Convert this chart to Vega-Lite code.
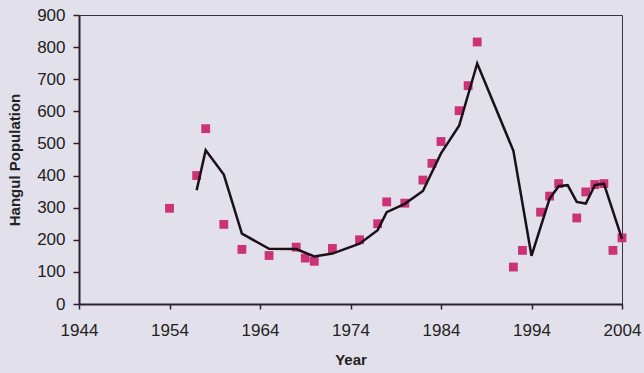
{
  "$schema": "https://vega.github.io/schema/vega-lite/v6.json",
  "autosize": "none",
  "width": 543,
  "height": 289,
  "padding": {"left": 79, "top": 15, "right": 22, "bottom": 69},
  "background": "#e2e0ea",
  "config": {
    "view": {"stroke": "#3a3040", "strokeWidth": 1, "fill": "#e2e0ea"},
    "axis": {
      "labelFont": "Liberation Sans",
      "titleFont": "Liberation Sans",
      "labelColor": "#222222",
      "titleColor": "#222222",
      "domainColor": "#2a2030",
      "domainWidth": 2,
      "tickColor": "#2a2030",
      "tickWidth": 1.5,
      "tickSize": 5,
      "grid": false,
      "labelFontSize": 17,
      "labelOverlap": false,
      "titleFontSize": 15,
      "titleFontWeight": "bold"
    }
  },
  "datasets": {
    "obs": [
      {"year": 1954, "pop": 298},
      {"year": 1957, "pop": 400},
      {"year": 1958, "pop": 546},
      {"year": 1960, "pop": 248},
      {"year": 1962, "pop": 170},
      {"year": 1965, "pop": 151},
      {"year": 1968, "pop": 177},
      {"year": 1969, "pop": 143},
      {"year": 1970, "pop": 133},
      {"year": 1972, "pop": 173},
      {"year": 1975, "pop": 200},
      {"year": 1977, "pop": 250},
      {"year": 1978, "pop": 318},
      {"year": 1980, "pop": 314},
      {"year": 1982, "pop": 386},
      {"year": 1983, "pop": 438},
      {"year": 1984, "pop": 506},
      {"year": 1986, "pop": 602},
      {"year": 1987, "pop": 680},
      {"year": 1988, "pop": 816},
      {"year": 1992, "pop": 115},
      {"year": 1993, "pop": 167},
      {"year": 1995, "pop": 286},
      {"year": 1996, "pop": 336},
      {"year": 1997, "pop": 375},
      {"year": 1999, "pop": 268},
      {"year": 2000, "pop": 349},
      {"year": 2001, "pop": 372},
      {"year": 2002, "pop": 375},
      {"year": 2003, "pop": 167},
      {"year": 2004, "pop": 206}
    ],
    "trend": [
      {"year": 1957, "pop": 354},
      {"year": 1958, "pop": 479},
      {"year": 1960, "pop": 403},
      {"year": 1962, "pop": 219},
      {"year": 1965, "pop": 172},
      {"year": 1968, "pop": 171},
      {"year": 1970, "pop": 148},
      {"year": 1972, "pop": 157},
      {"year": 1975, "pop": 188},
      {"year": 1977, "pop": 230},
      {"year": 1978, "pop": 286},
      {"year": 1980, "pop": 312},
      {"year": 1982, "pop": 352},
      {"year": 1984, "pop": 469},
      {"year": 1986, "pop": 555},
      {"year": 1988, "pop": 749},
      {"year": 1992, "pop": 477},
      {"year": 1994, "pop": 150},
      {"year": 1996, "pop": 328},
      {"year": 1997, "pop": 367},
      {"year": 1998, "pop": 370},
      {"year": 1999, "pop": 318},
      {"year": 2000, "pop": 313},
      {"year": 2001, "pop": 370},
      {"year": 2002, "pop": 375},
      {"year": 2004, "pop": 203}
    ]
  },
  "encoding": {
    "x": {
      "field": "year", "type": "quantitative",
      "scale": {"domain": [1944, 2004], "nice": false, "zero": false},
      "axis": {"values": [1944, 1954, 1964, 1974, 1984, 1994, 2004], "format": "d", "title": "Year", "labelPadding": 13, "titlePadding": 14, "labelFlush": false}
    },
    "y": {
      "field": "pop", "type": "quantitative",
      "scale": {"domain": [0, 900], "nice": false},
      "axis": {"values": [0, 100, 200, 300, 400, 500, 600, 700, 800, 900], "title": "Hangul Population", "labelPadding": 8, "titlePadding": 14, "tickSize": 6}
    }
  },
  "layer": [
    {
      "data": {"name": "obs"},
      "mark": {"type": "square", "size": 78, "filled": true, "color": "#cc3377", "opacity": 1}
    },
    {
      "data": {"name": "trend"},
      "mark": {"type": "line", "color": "#1c1018", "strokeWidth": 2.5, "strokeJoin": "miter"}
    }
  ]
}
